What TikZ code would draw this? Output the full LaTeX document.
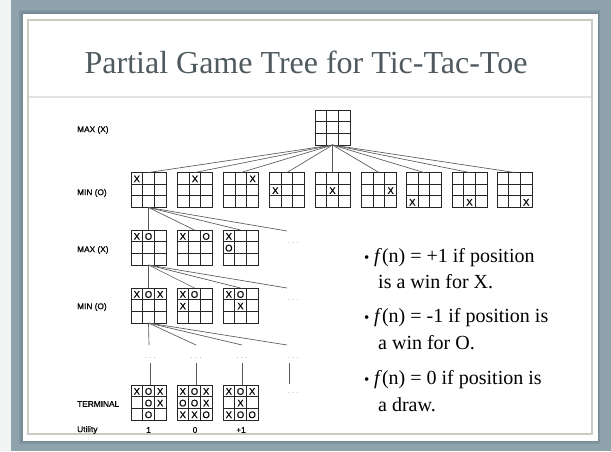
\documentclass[tikz,border=0pt]{standalone}
\usepackage{fontspec}
\setmainfont{Liberation Serif}
\setsansfont{Liberation Sans}
\newfontfamily\boardfont[FakeBold=0.6]{Liberation Sans}
\usetikzlibrary{calc}
\definecolor{slatebg}{HTML}{8FA3AC}
\definecolor{shadowc}{HTML}{768B95}
\definecolor{framegray}{HTML}{CBCBC3}
\definecolor{titlec}{HTML}{4E5A60}
\definecolor{sepc}{HTML}{E4E4E4}
\definecolor{stripc}{HTML}{F2F4F4}
\definecolor{dotc}{HTML}{8A8A8A}
\newcommand\tttmarks[2]{\foreach \bc/\br/\bm in {#2}{\node[xomark] (#1-\bc\br) at ($(#1.north west)+({(\bc-0.5)*35/3},{(\br-0.5)*35/3+0.6})$) {\bm};}}
\begin{document}
\begin{tikzpicture}[x=1pt,y=-1pt,
  board/.style={draw=black!85, line width=0.75pt, minimum width=35pt, minimum height=35pt, inner sep=0pt, outer sep=0pt,
    path picture={\foreach \k in {1,2}{
      \draw[black!85, line width=0.75pt] ($(path picture bounding box.south west)!\k/3!(path picture bounding box.south east)$) -- ($(path picture bounding box.north west)!\k/3!(path picture bounding box.north east)$);
      \draw[black!85, line width=0.75pt] ($(path picture bounding box.south west)!\k/3!(path picture bounding box.north west)$) -- ($(path picture bounding box.south east)!\k/3!(path picture bounding box.north east)$);}}},
  xomark/.style={font=\boardfont\fontsize{9.5}{9.5}\selectfont, inner sep=0pt},
  tedge/.style={draw=black!65, line width=0.65pt},
  dotsn/.style={font=\sffamily\fontsize{7}{7}\selectfont, text=dotc, inner sep=1pt},
  lvl/.style={font=\boardfont\fontsize{8.3}{9}\selectfont, anchor=west, inner sep=0pt},
  util/.style={font=\boardfont\fontsize{8.3}{9}\selectfont, inner sep=0pt},
  bodytext/.style={font=\fontsize{20}{24}\selectfont, anchor=base west, inner sep=0pt},
  bulletn/.style={font=\fontsize{15}{18}\selectfont, anchor=base west, inner sep=0pt},
  titlen/.style={font=\fontsize{32}{36}\selectfont, text=titlec, anchor=base, inner sep=0pt}]
\useasboundingbox (0,0) rectangle (611,451);
% frame
\fill[slatebg] (0,0) rectangle (611,451);
\fill[stripc] (0,0) rectangle (10.5,451);
\fill[shadowc!55!slatebg] (19,10) rectangle (600,444);
\fill[shadowc] (21,12) rectangle (599,442);
\fill[white] (23,14) rectangle (598,441);
\draw[framegray, line width=1.8pt] (28,20) rectangle (592,434);
\draw[sepc, line width=2pt] (29,97) -- (591,97);
% title
\node[titlen] (title) at (306,73) {Partial Game Tree for Tic-Tac-Toe};
% level labels
\node[lvl] (l1) at (77,130) {MAX (X)};
\node[lvl] (l2) at (77,193) {MIN (O)};
\node[lvl] (l3) at (77,250) {MAX (X)};
\node[lvl] (l4) at (77,307) {MIN (O)};
\node[lvl] (l5) at (77,404) {TERMINAL};
\node[lvl] (l6) at (77,430) {Utility};
% root
\node[board] (root) at (332.5,127.5) {};
% MIN level
\foreach \i/\x in {1/148.5,2/195,3/241,4/287,5/332.5,6/379,7/424,8/469.5,9/514.5}{
  \node[board] (m\i) at (\x,190) {};
  \draw[tedge] (root.south) -- (m\i.north);
}
\tttmarks{m1}{1/1/X}
\tttmarks{m2}{2/1/X}
\tttmarks{m3}{3/1/X}
\tttmarks{m4}{1/2/X}
\tttmarks{m5}{2/2/X}
\tttmarks{m6}{3/2/X}
\tttmarks{m7}{1/3/X}
\tttmarks{m8}{2/3/X}
\tttmarks{m9}{3/3/X}
% MAX level 2
\node[board] (a1) at (148.5,247.5) {};
\node[board] (a2) at (194.5,247.5) {};
\node[board] (a3) at (240.5,247.5) {};
\node[dotsn] (da) at (293,243) {.\hspace{2.6pt}.\hspace{2.6pt}.};
\coordinate (ca) at (287,231);
\foreach \n in {a1,a2,a3}{\draw[tedge] (m1.south) -- (\n.north);}
\draw[tedge] (m1.south) -- (ca);
\tttmarks{a1}{1/1/X,2/1/O}
\tttmarks{a2}{1/1/X,3/1/O}
\tttmarks{a3}{1/1/X,1/2/O}
% MIN level 3
\node[board] (b1) at (148.5,305.5) {};
\node[board] (b2) at (194.5,305.5) {};
\node[board] (b3) at (240.5,305.5) {};
\node[dotsn] (db) at (293,300) {.\hspace{2.6pt}.\hspace{2.6pt}.};
\coordinate (cb) at (287,288);
\foreach \n in {b1,b2,b3}{\draw[tedge] (a1.south) -- (\n.north);}
\draw[tedge] (a1.south) -- (cb);
\tttmarks{b1}{1/1/X,2/1/O,3/1/X}
\tttmarks{b2}{1/1/X,2/1/O,1/2/X}
\tttmarks{b3}{1/1/X,2/1/O,2/2/X}
% level 4 dots
\coordinate (e1) at (149,345);
\coordinate (e2) at (196,345);
\coordinate (e3) at (242,345);
\coordinate (e4) at (287,345);
\foreach \n in {e1,e2,e3,e4}{\draw[tedge] (b1.south) -- (\n);}
\node[dotsn] (d1) at (150,358) {.\hspace{2.6pt}.\hspace{2.6pt}.};
\node[dotsn] (d2) at (196,358) {.\hspace{2.6pt}.\hspace{2.6pt}.};
\node[dotsn] (d3) at (242,358) {.\hspace{2.6pt}.\hspace{2.6pt}.};
\node[dotsn] (d4) at (293,358) {.\hspace{2.6pt}.\hspace{2.6pt}.};
% terminal
\node[board] (t1) at (148.5,402.5) {};
\node[board] (t2) at (194.5,402.5) {};
\node[board] (t3) at (240.5,402.5) {};
\coordinate (f1) at (150,363);
\coordinate (f2) at (196,363);
\coordinate (f3) at (242,363);
\draw[tedge] (f1) -- (f1 |- t1.north);
\draw[tedge] (f2) -- (f2 |- t2.north);
\draw[tedge] (f3) -- (f3 |- t3.north);
\coordinate (g1) at (289,363);
\coordinate (g2) at (289,384);
\draw[tedge] (g1) -- (g2);
\node[dotsn] (dt) at (293,393) {.\hspace{2.6pt}.\hspace{2.6pt}.};
\tttmarks{t1}{1/1/X,2/1/O,3/1/X,2/2/O,3/2/X,2/3/O}
\tttmarks{t2}{1/1/X,2/1/O,3/1/X,1/2/O,2/2/O,3/2/X,1/3/X,2/3/X,3/3/O}
\tttmarks{t3}{1/1/X,2/1/O,3/1/X,2/2/X,1/3/X,2/3/O,3/3/O}
% utilities
\node[util] (u1) at (148.5,430) {1};
\node[util] (u2) at (195,430) {0};
\node[util] (u3) at (241,430) {+1};
% bullets
\node[bulletn] (p1) at (364,262) {•};
\node[bodytext] (s1) at (374,262) {\textit{f}(n) = +1 if position};
\node[bodytext] (s2) at (378,288) {is a win for X.};
\node[bulletn] (p2) at (364,322) {•};
\node[bodytext] (s3) at (374,322) {\textit{f}(n) = -1 if position is};
\node[bodytext] (s4) at (378,349) {a win for O.};
\node[bulletn] (p3) at (364,384) {•};
\node[bodytext] (s5) at (374,384) {\textit{f}(n) = 0 if position is};
\node[bodytext] (s6) at (378,411) {a draw.};
\end{tikzpicture}
\end{document}
